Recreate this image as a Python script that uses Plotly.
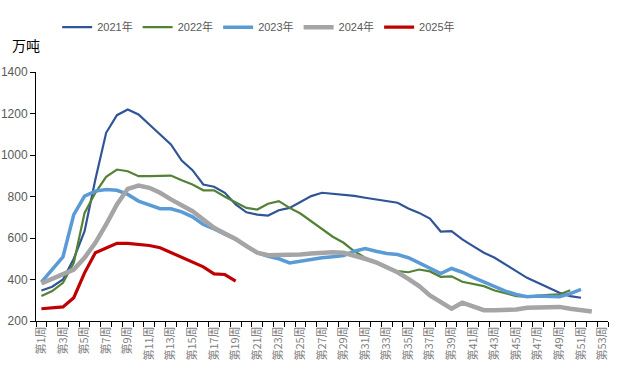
import plotly.graph_objects as go

weeks_all = list(range(1, 54))
tick_weeks = list(range(1, 54, 2))
tick_labels = [f"第{w}周" for w in tick_weeks]

y2021 = [347, 365, 400, 500, 633, 882, 1107, 1192, 1219, 1195, 1147, 1099, 1051, 973,
         927, 858, 847, 818, 762, 724, 713, 708, 734, 745, 773, 802, 818, 813,
         811, 803, 794, 786, 781, 770, 742, 721, 694, 631, 633, 593, 561,
         529, 505, 472, 440, 408, 384, 360, 336, 320, 312]
y2022 = [320, 344, 384, 480, 721, 818, 895, 930, 922, 898, 898, 898, 901, 878,
         858, 830, 830, 799, 770, 745, 737, 765, 778, 745, 718, 681, 641, 606,
         577, 536, 505, 480, 456, 440, 435, 448, 439, 413, 415, 389, 377,
         368, 347, 332, 320, 317, 323, 326, 328, 348]
y2023 = [387, 448, 509, 713, 802, 826, 834, 830, 810, 778, 758, 741, 741, 726,
         702, 665, 644, 617, 593, 561, 529, 512, 500, 480, 488, 500, 505, 510,
         516, 536, 549, 536, 525, 520, 505, 480, 456, 429, 453, 435, 410,
         387, 363, 344, 328, 317, 320, 317, 317, 332, 352]
y2024 = [381, 405, 424, 448, 505, 577, 665, 762, 837, 853, 842, 818, 786, 757,
         729, 689, 649, 622, 596, 561, 529, 517, 517, 517, 520, 525, 529, 531,
         529, 516, 500, 483, 461, 435, 403, 368, 323, 291, 259, 288, 271,
         252, 252, 252, 255, 264, 265, 268, 268, 259, 251, 246]
y2025 = [259, 264, 268, 312, 432, 529, 553, 574, 574, 569, 564, 553, 529, 508,
         483, 461, 427, 424, 392]

series = [
    ("2021年", y2021, "#2F5597", 2.2),
    ("2022年", y2022, "#548235", 2.2),
    ("2023年", y2023, "#5B9BD5", 3.5),
    ("2024年", y2024, "#A5A5A5", 4.5),
    ("2025年", y2025, "#C00000", 3.2),
]

fig = go.Figure()
for name, vals, color, width in series:
    fig.add_trace(go.Scatter(
        x=weeks_all[:len(vals)], y=vals, mode="lines", name=name,
        line=dict(color=color, width=width),
    ))

fig.update_layout(
    width=622, height=370,
    margin=dict(l=36, r=14, t=72, b=48.5, autoexpand=False),
    paper_bgcolor="white", plot_bgcolor="white",
    font=dict(family="Liberation Sans, Arial, Noto Sans CJK SC", size=12, color="#595959"),
    showlegend=True,
    legend=dict(orientation="h", x=0.037, y=1.18, xanchor="left", yanchor="middle",
                font=dict(size=11, color="#595959"), itemwidth=30,
                bgcolor="rgba(0,0,0,0)"),
    annotations=[dict(text="万吨", x=-0.045, y=1.108, xref="paper", yref="paper",
                      xanchor="left", yanchor="middle", showarrow=False,
                      font=dict(size=14, color="black", family="Noto Sans CJK SC"))],
)

fig.update_xaxes(
    range=[0.5, 53.5], showline=True, linecolor="black", linewidth=1, automargin=False,
    tickmode="array", tickvals=tick_weeks, ticktext=tick_labels,
    tickangle=-90, ticks="", tickfont=dict(size=11, color="#7F7F7F",
                                            family="Noto Sans CJK SC"),
    minor=dict(tickmode="linear", tick0=0.5, dtick=1, ticks="outside",
               ticklen=5, tickcolor="black", showgrid=False),
    showgrid=False, zeroline=False,
)
fig.update_yaxes(
    range=[200, 1400], dtick=200, showline=True, linecolor="black", linewidth=1,
    automargin=False,
    ticks="outside", ticklen=5, tickcolor="black", showgrid=False, zeroline=False,
    tickfont=dict(size=12, color="#595959"),
)

fig.write_html("out.html", config={"displayModeBar": False},
               post_script="document.body.style.margin='0';document.body.style.overflow='hidden';")
